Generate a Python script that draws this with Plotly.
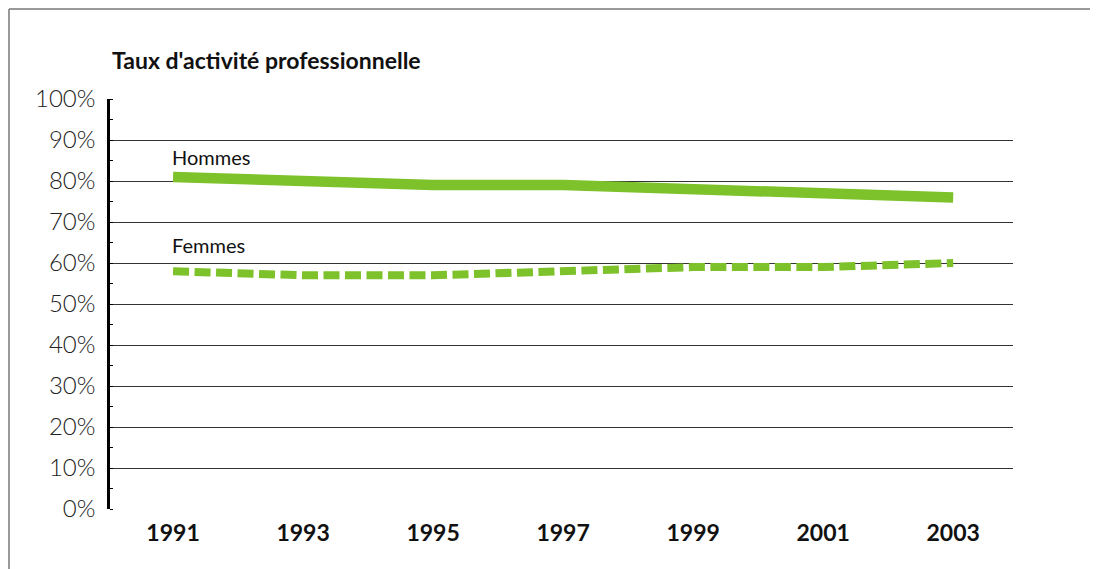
import plotly.graph_objects as go

years = [1991, 1993, 1995, 1997, 1999, 2001, 2003]
hommes = [81, 80, 79, 79, 78, 77, 76]
femmes = [58, 57, 57, 58, 59, 59, 60]
y_ticks = list(range(0, 101, 10))
y_labels = [f"{v}%" for v in y_ticks]

green = '#7DC22A'

fig = go.Figure()

fig.add_trace(go.Scatter(
    x=years, y=hommes, mode='lines', name='Hommes',
    line=dict(color=green, width=10.5), showlegend=False, hoverinfo='skip'
))
fig.add_trace(go.Scatter(
    x=years, y=femmes, mode='lines', name='Femmes',
    line=dict(color=green, width=8, dash='16px,5.5px'), showlegend=False, hoverinfo='skip'
))

# etiquettes des séries
fig.add_annotation(x=years[0], y=hommes[0], text='Hommes', showarrow=False,
                   xanchor='left', yanchor='bottom', xshift=-3, yshift=6,
                   font=dict(family='Lato', size=20, color='#111'))
fig.add_annotation(x=years[0], y=femmes[0], text='Femmes', showarrow=False,
                   xanchor='left', yanchor='bottom', xshift=-3, yshift=12,
                   font=dict(family='Lato', size=20, color='#111'))

# titre
fig.add_annotation(xref='paper', yref='paper', x=0, y=1 + 39 / 410,
                   text="<b>Taux d'activité professionnelle</b>",
                   showarrow=False, xanchor='left', yanchor='middle',
                   font=dict(family='Lato', size=23, color='#111'))

# cadre (haut et gauche seulement)
x_left = -101 / 903
y_top = 1 + 90 / 410
fig.add_shape(type='line', xref='paper', yref='paper',
              x0=x_left, x1=1.2, y0=y_top, y1=y_top,
              line=dict(color='#777', width=1.5))
fig.add_shape(type='line', xref='paper', yref='paper',
              x0=x_left, x1=x_left, y0=-0.3, y1=y_top,
              line=dict(color='#777', width=1.5))

fig.update_layout(
    width=1090, height=561, autosize=False,
    margin=dict(l=102, r=85, t=91, b=60),
    plot_bgcolor='white', paper_bgcolor='white',
    font=dict(family='Lato', color='#111'),
    xaxis=dict(
        range=[1990.03, 2003.92], tickvals=years, ticktext=[f'<b>{y}</b>' for y in years],
        showgrid=False, zeroline=False, showline=False, ticks='',
        tickfont=dict(size=23, family='Lato'), ticklabelstandoff=8
    ),
    yaxis=dict(
        range=[0, 100], tickvals=y_ticks, ticktext=y_labels,
        showgrid=True, gridcolor='#333', gridwidth=1, zeroline=False,
        showline=True, linecolor='black', linewidth=2.5, ticks='',
        tickfont=dict(size=24, family='Lato', color='#222', weight=300), ticklabelstandoff=7,
        minor=dict(ticks='inside', ticklen=3, tickcolor='black', dtick=5, showgrid=False)
    ),
)

fig.write_html('out.html')
